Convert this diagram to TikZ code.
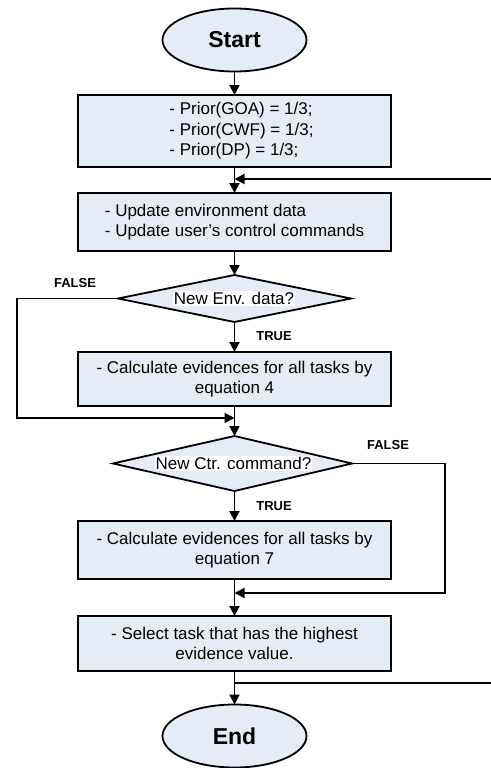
\documentclass[tikz,border=0pt]{standalone}
\usepackage{fontspec}
\setmainfont{Liberation Sans}
\usetikzlibrary{shapes.geometric,arrows.meta}
\definecolor{boxfill}{RGB}{230,236,247}
\begin{document}
\begin{tikzpicture}[x=1pt,y=-1pt,
  every node/.style={inner sep=0pt, outer sep=0pt},
  term/.style={ellipse, draw, line width=1.8pt, fill=boxfill, minimum width=144pt, minimum height=63pt, font=\fontsize{23}{26}\selectfont\bfseries},
  procbox/.style={rectangle, draw, line width=1.8pt, fill=boxfill, minimum width=313pt, font=\fontsize{17}{20.5}\selectfont},
  flowline/.style={line width=1.8pt},
  flowarrow/.style={flowline, -{Triangle[length=10pt,width=10pt]}},
  branchlabel/.style={font=\fontsize{13}{15}\selectfont\bfseries},
  decision/.style={draw, line width=1.8pt, fill=boxfill, line join=miter},
  dtext/.style={fill=white, inner xsep=1pt, inner ysep=1.5pt, font=\fontsize{17}{20}\selectfont}
]
\useasboundingbox (0,0) rectangle (490,768);
\fill[white] (0,0) rectangle (490,768);

% terminals and boxes
\node[term] (start) at (234.5,40) {Start};
\node[procbox, minimum height=72pt, align=left] (b1) at (234.5,131)
  {\hspace*{14pt}- Prior(GOA) = 1/3;\\\hspace*{14pt}- Prior(CWF) = 1/3;\\\hspace*{14pt}- Prior(DP) = 1/3;};
\node[procbox, minimum height=58pt, align=left] (b2) at (234.5,222)
  {- Update environment data\\- Update user's control commands};

% decision 1
\coordinate (q1t) at (234.5,275);
\coordinate (q1r) at (351,298.5);
\coordinate (q1b) at (234.5,322);
\coordinate (q1l) at (118,298.5);
\draw[decision] (q1t) -- (q1r) -- (q1b) -- (q1l) -- cycle;
\node[dtext] (q1) at (234,298.5) {New Env. data?};

\node[procbox, minimum height=54pt, align=center] (b3) at (234.5,379)
  {- Calculate evidences for all tasks by\\equation 4};

% decision 2
\coordinate (q2t) at (234.5,436);
\coordinate (q2r) at (352,463.5);
\coordinate (q2b) at (234.5,491);
\coordinate (q2l) at (113,463.5);
\draw[decision] (q2t) -- (q2r) -- (q2b) -- (q2l) -- cycle;
\node[dtext] (q2) at (233.5,463.5) {New Ctr. command?};

\node[procbox, minimum height=58pt, align=center] (b4) at (234.5,550)
  {- Calculate evidences for all tasks by\\equation 7};
\node[procbox, minimum height=55pt, align=center] (b5) at (234.5,643.5)
  {- Select task that has the highest\\evidence value.};
\node[term] (end) at (234.5,736) {End};

% merge points
\coordinate (m0) at (234.5,179);
\coordinate (m1) at (234.5,418);
\coordinate (m2) at (234.5,593);
\coordinate (m3) at (234.5,683);

% connectors
\draw[flowarrow] (start) -- (b1);
\draw[flowarrow] (b1) -- (b2);
\draw[flowarrow] (b2) -- (q1t);
\draw[flowarrow] (q1b) -- (b3);
\draw[flowarrow] (b3) -- (q2t);
\draw[flowarrow] (q1l) -- (17,298.5) -- (17,418) -- (m1);
\draw[flowarrow] (q2b) -- (b4);
\draw[flowarrow] (q2r) -- (445,463.5) -- (445,593) -- (m2);
\draw[flowarrow] (b4) -- (b5);
\draw[flowarrow] (b5) -- (end);
\draw[flowarrow] (m3) -- (500,683) -- (500,179) -- (m0);

% branch labels
\node[branchlabel] (f1) at (75,283) {FALSE};
\node[branchlabel] (t1) at (274,336) {TRUE};
\node[branchlabel] (f2) at (388,445) {FALSE};
\node[branchlabel] (t2) at (274,506) {TRUE};
\end{tikzpicture}
\end{document}
